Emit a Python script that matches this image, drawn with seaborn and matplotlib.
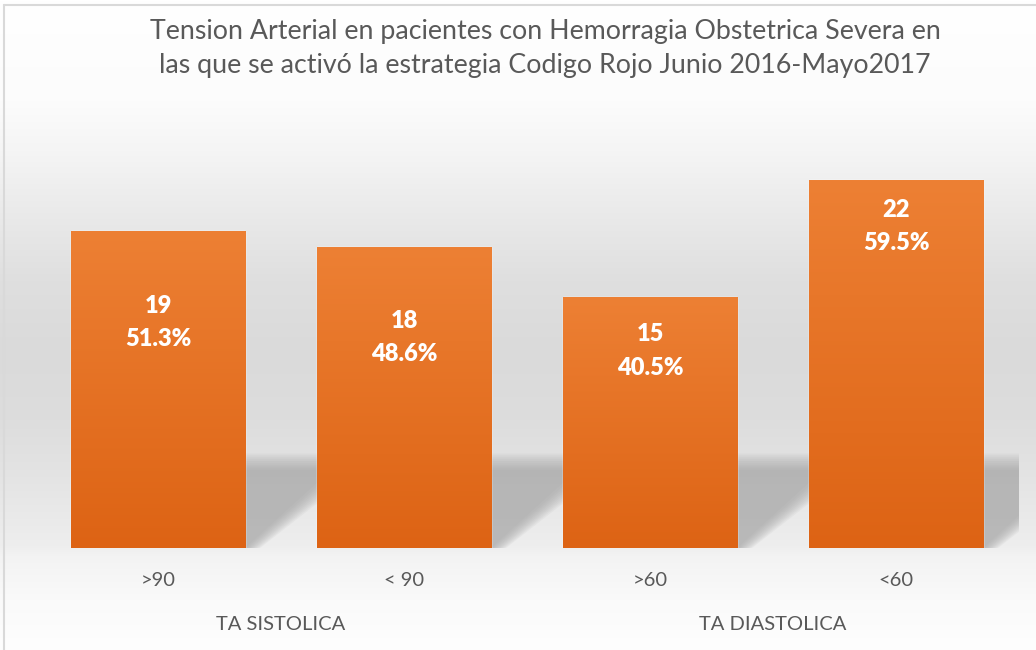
import numpy as np
import pandas as pd
import matplotlib
matplotlib.use("Agg")
import matplotlib.pyplot as plt
from matplotlib.patches import Polygon
from matplotlib.lines import Line2D
import matplotlib.transforms as mtransforms
import seaborn as sns

# datos
categorias = [">90", "< 90", ">60", "<60"]
pacientes = [19, 18, 15, 22]
porcentajes = ["51.3%", "48.6%", "40.5%", "59.5%"]
grupos = ["TA SISTOLICA", "TA DIASTOLICA"]

df = pd.DataFrame({"categoria": categorias, "pacientes": pacientes})

sns.set_theme(style="white")
plt.rcParams["font.family"] = ["Lato", "DejaVu Sans"]

gris_txt = "#595959"
fig = plt.figure(figsize=(10.36, 6.5), dpi=100)

# fondo con degradado vertical
bg = fig.add_axes([0, 0, 1, 1])
stops_y = [0, 100, 150, 200, 280, 350, 420, 470, 546, 556, 600, 650]
stops_g = [255, 252, 245, 236, 223, 218, 221, 227, 238, 243, 250, 254]
yy = np.arange(650)
gris = np.interp(yy, stops_y, stops_g) / 255.0
img = np.repeat(gris[:, None], 3, axis=1)[:, None, :]
bg.imshow(img, aspect="auto", extent=[0, 1, 0, 1], origin="upper")
bg.set_axis_off()

ax = fig.add_axes([35 / 1036, 102 / 650, 984 / 1036, 401 / 650])
ax.set_zorder(1)
ax.patch.set_visible(False)

sns.barplot(data=df, x="categoria", y="pacientes", color="#ed7d31",
            width=0.71, saturation=1, ax=ax, zorder=3)
ax.set_xlim(-0.5, 3.5)
ax.set_ylim(0, 24)

# degradado naranja dentro de cada barra + sombra
grad = np.linspace(0, 1, 256)[:, None]
c_top = np.array([237, 128, 52]) / 255.0
c_bot = np.array([221, 99, 20]) / 255.0
grad_img = (c_top[None, None, :] * (1 - grad[:, :, None]) + c_bot[None, None, :] * grad[:, :, None])

top_s, dx, n = 5.15, 0.45, 10
for p in ax.patches:
    x0, w, h = p.get_x(), p.get_width(), p.get_height()
    im = ax.imshow(grad_img, aspect="auto", extent=[x0, x0 + w, 0, h],
                   origin="upper", zorder=3.5)
    im.set_clip_path(p)
    xr = x0 + w
    for k in range(n):
        f = 1 - 2 * k / (n - 1)
        t = top_s + 0.5 * f
        d = dx + 0.1 * f
        sh = Polygon([(xr, 0), (xr, t), (xr + d, t), (xr + 0.03 + 0.03 * f, 0)],
                     closed=True, facecolor="#9a9a9a", edgecolor="none",
                     alpha=0.085, zorder=2)
        ax.add_patch(sh)

# etiquetas de datos
label_pos = [13.5, 12.6, 11.8, 19.25]
for i, (v, pct) in enumerate(zip(pacientes, porcentajes)):
    ax.text(i, label_pos[i] + 1.0, str(v), ha="center", va="center",
            color="white", fontsize=17, fontweight="heavy", zorder=5)
    ax.text(i, label_pos[i] - 1.0, pct, ha="center", va="center",
            color="white", fontsize=17, fontweight="heavy", zorder=5)

ax.set_xlabel("")
ax.set_ylabel("")
ax.set_yticks([])
ax.tick_params(axis="x", length=0, pad=17, labelsize=14.5, labelcolor=gris_txt)
for s in ax.spines.values():
    s.set_visible(False)

# etiquetas de grupo
trans = mtransforms.blended_transform_factory(ax.transData, fig.transFigure)
for gx, g in zip([0.5, 2.5], grupos):
    ax.text(gx, 25 / 650, g, transform=trans, ha="center", va="center",
            fontsize=14.5, color=gris_txt)

fig.text(545 / 1036, 1 - 48.5 / 650,
         "Tension Arterial en pacientes con Hemorragia Obstetrica Severa en\n"
         "las que se activó la estrategia Codigo Rojo Junio 2016-Mayo2017",
         ha="center", va="center", fontsize=19.3, color=gris_txt,
         linespacing=1.4)

# borde del grafico
fig.add_artist(Line2D([4 / 1036, 1], [1 - 5 / 650, 1 - 5 / 650],
                      color="#d9d9d9", lw=1.5))
fig.add_artist(Line2D([4 / 1036, 4 / 1036], [0, 1 - 5 / 650],
                      color="#d9d9d9", lw=1.5))

fig.savefig("out.png", dpi=100)
